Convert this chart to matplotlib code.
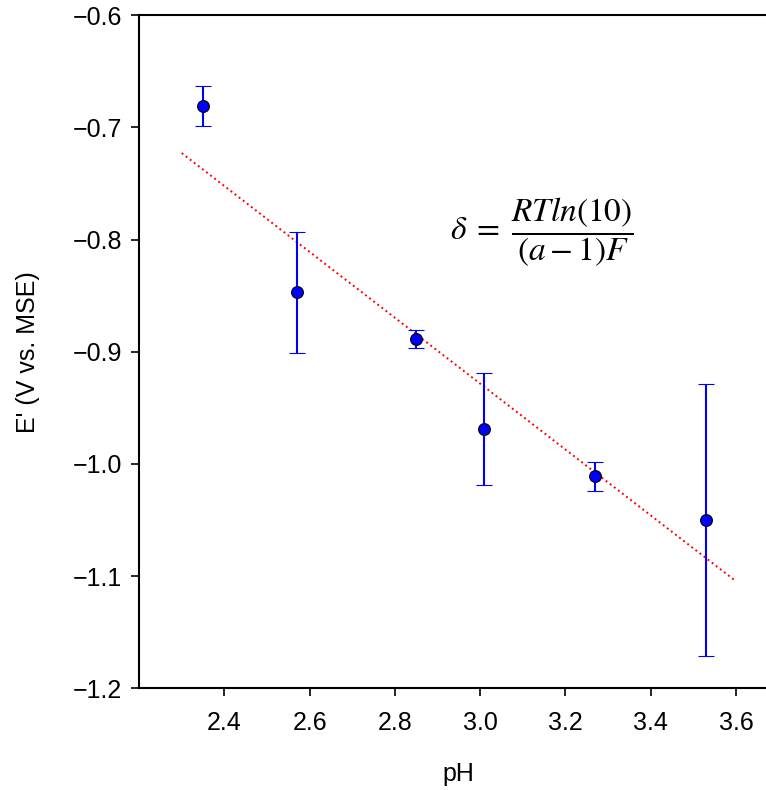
import numpy as np
import matplotlib
matplotlib.use('Agg')
import matplotlib.pyplot as plt

# data
ph = [2.35, 2.57, 2.85, 3.01, 3.27, 3.53]
e_prime = [-0.681, -0.847, -0.889, -0.969, -1.011, -1.050]
e_err = [0.018, 0.054, 0.008, 0.050, 0.013, 0.121]

fit_range = [2.3, 3.6]
xticks = [2.4, 2.6, 2.8, 3.0, 3.2, 3.4, 3.6]
yticks = [-1.2, -1.1, -1.0, -0.9, -0.8, -0.7, -0.6]

plt.rcParams['font.family'] = ['Liberation Sans', 'DejaVu Sans']
plt.rcParams['mathtext.fontset'] = 'stix'

fig = plt.figure(figsize=(7.66, 7.90), dpi=100)
ax = fig.add_axes([0.1815, 0.1287, 0.835, 0.852])

# linear fit through the points
slope, intercept = np.polyfit(ph, e_prime, 1)
xf = np.array(fit_range)
ax.plot(xf, slope * xf + intercept, color='red', linestyle=':', linewidth=1.4)

ax.errorbar(ph, e_prime, yerr=e_err, fmt='o', color='blue', ecolor='blue',
            markeredgecolor='black', markeredgewidth=0.8, markersize=8.5,
            elinewidth=1.5, capsize=6, capthick=1.2)

ax.text(0.63, 0.678, r'$\delta\;=\;\dfrac{RTln(10)}{(a-1)F}$', transform=ax.transAxes,
        fontsize=24, ha='center', va='center')

ax.set_xlim(2.2, 3.7)
ax.set_ylim(-1.2, -0.6)
ax.set_xticks(xticks)
ax.set_yticks(yticks)
ax.tick_params(labelsize=18, length=6, width=1.2, direction='out')
ax.tick_params(axis='x', pad=10)
ax.tick_params(axis='y', pad=6)
for s in ax.spines.values():
    s.set_linewidth(1.5)

ax.set_xlabel('pH', fontsize=18, labelpad=20)
ax.set_ylabel("E' (V vs. MSE)", fontsize=18, labelpad=24)

fig.savefig('out.png', dpi=100)
